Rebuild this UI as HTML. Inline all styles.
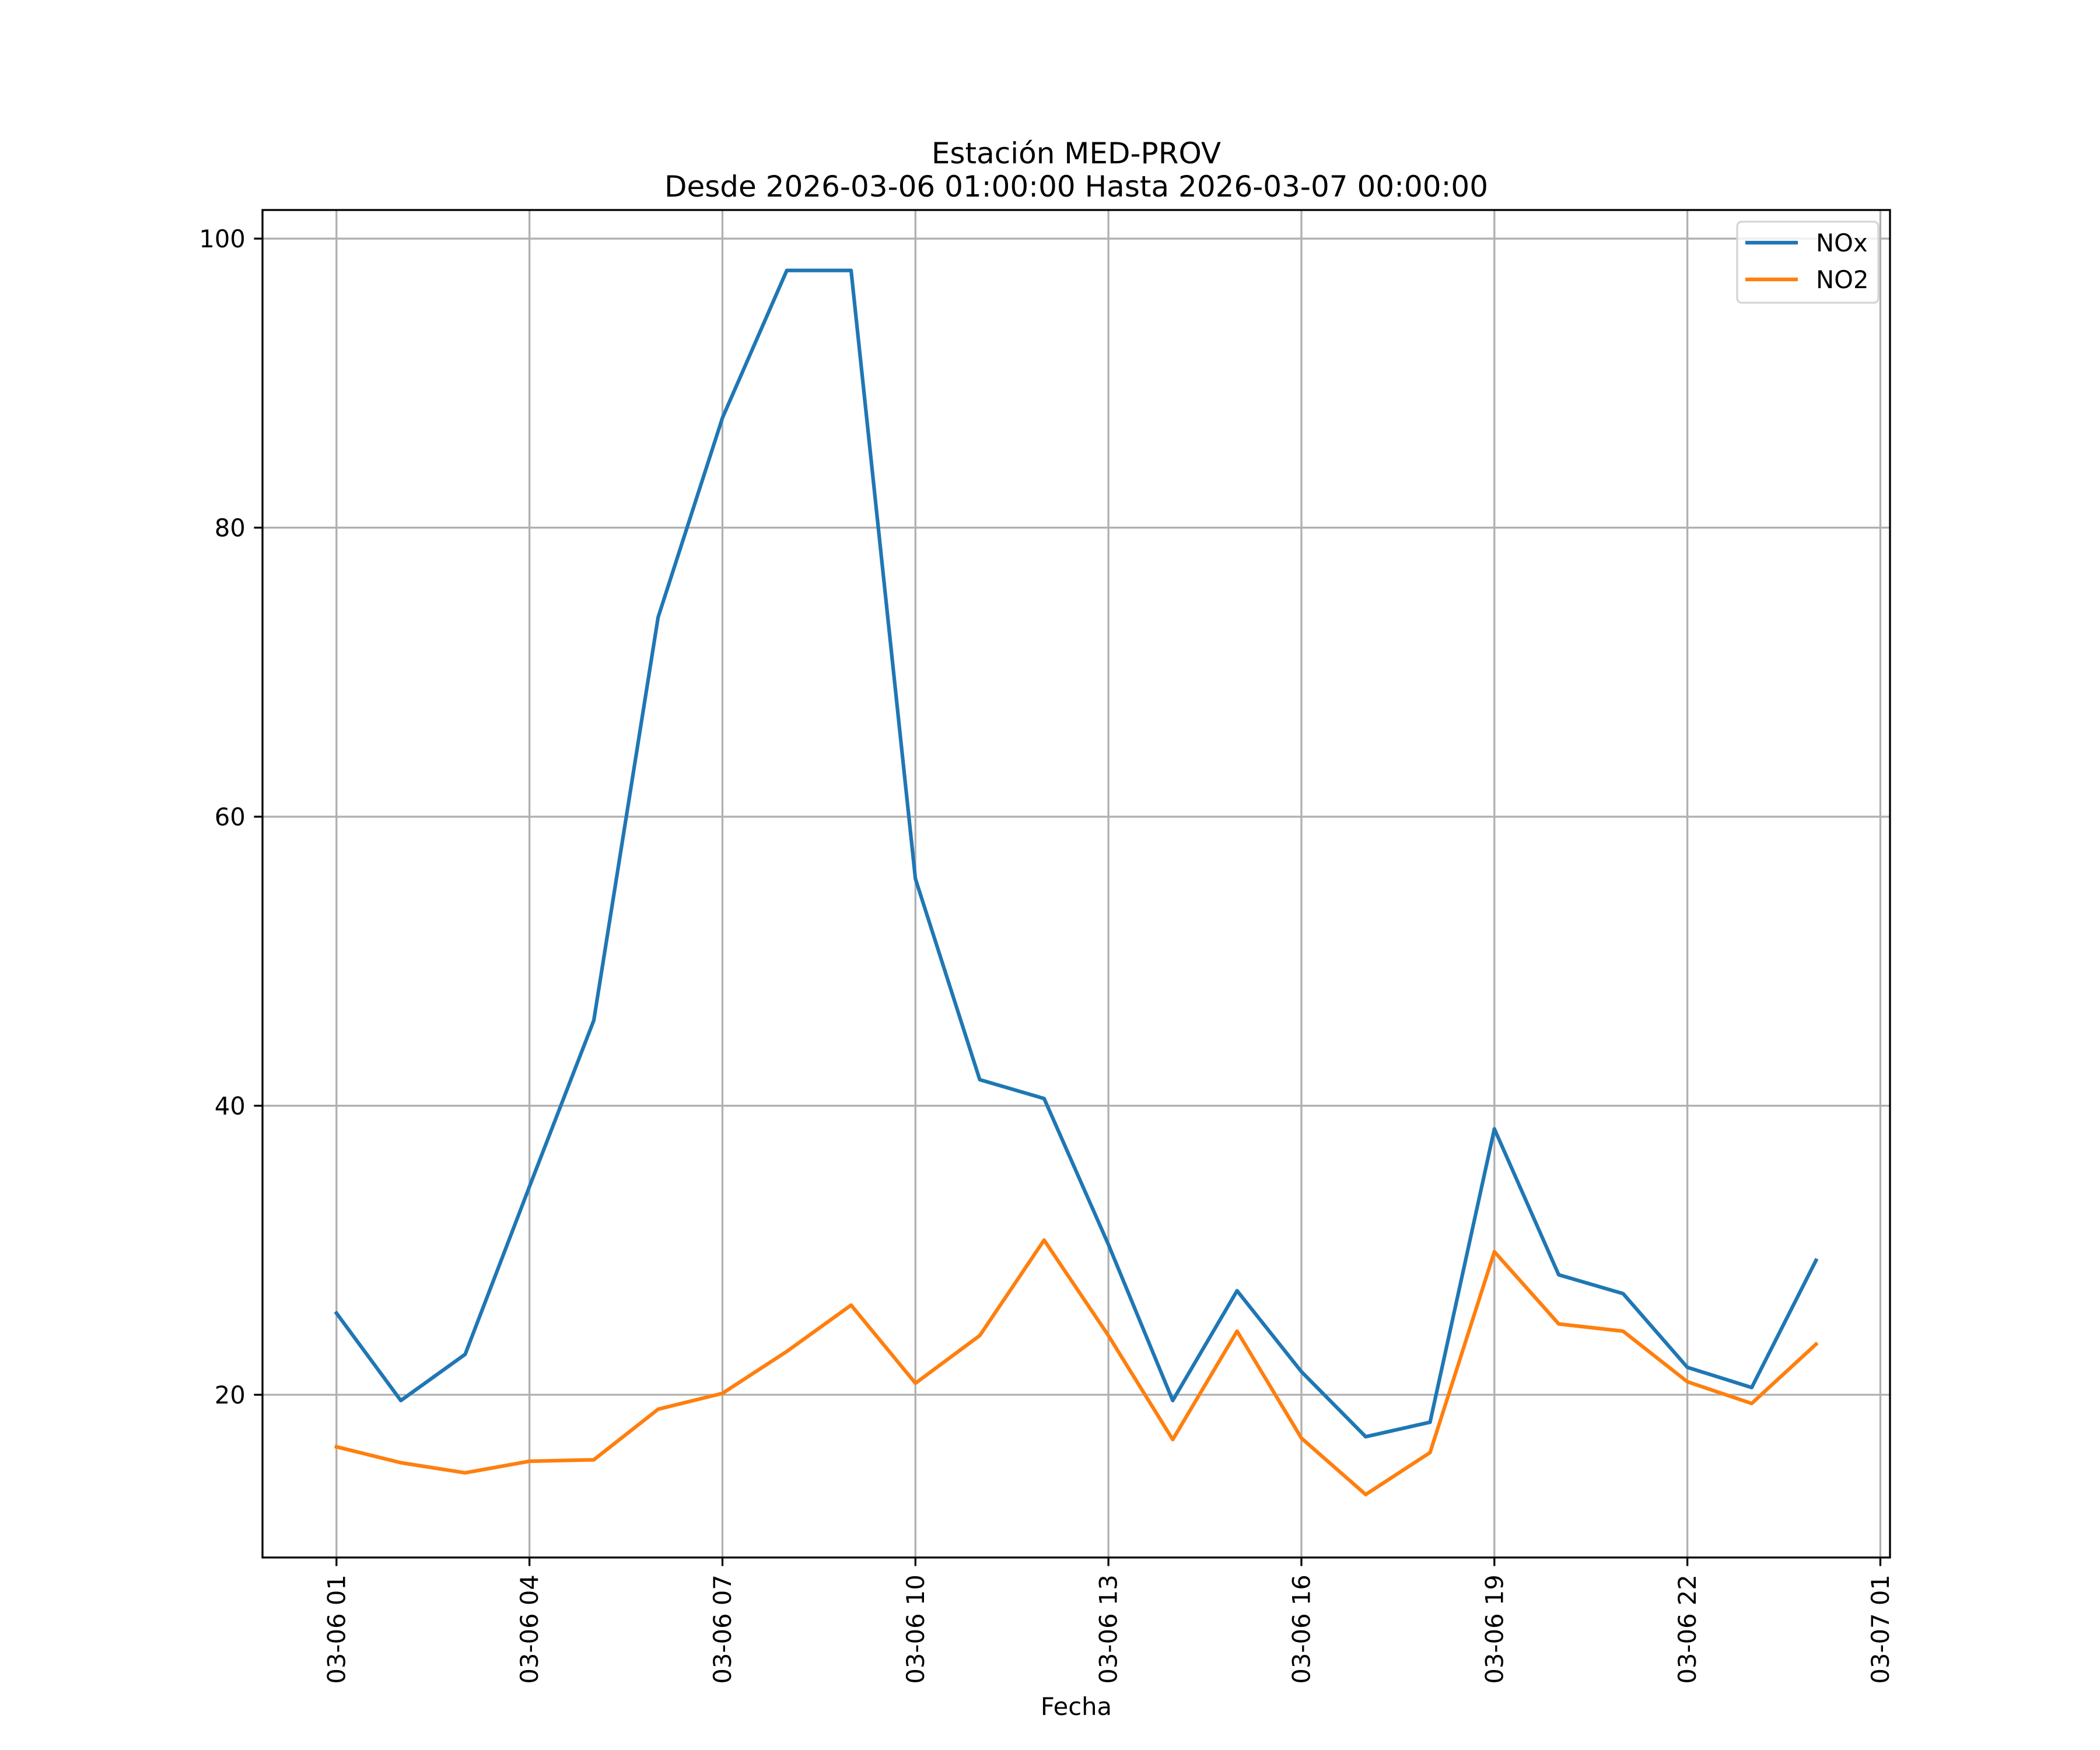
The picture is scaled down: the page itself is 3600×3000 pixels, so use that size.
<!DOCTYPE html>
<html><head><meta charset="utf-8"><style>html,body{margin:0;padding:0;background:#fff}svg{display:block}text{font-family:"DejaVu Sans","Liberation Sans",sans-serif;fill:#000}</style></head>
<body>
<svg id="chart" width="3600" height="3000" viewBox="0 0 3600 3000" xmlns="http://www.w3.org/2000/svg">
<rect x="0" y="0" width="3600" height="3000" fill="#fff"/>
<g id="grid"></g>
<g id="series"></g>
<rect x="450" y="360" width="2790" height="2310" fill="none" stroke="#000" stroke-width="3.3"/>
<g id="ticks"></g>
<text x="1845" y="280" font-size="50" text-anchor="middle">Estación MED-PROV</text>
<text x="1845" y="337" font-size="50" text-anchor="middle">Desde 2026-03-06 01:00:00 Hasta 2026-03-07 00:00:00</text>
<text x="1845" y="2940" font-size="41.7" text-anchor="middle">Fecha</text>
<g>
<rect x="2978" y="380" width="242" height="139" rx="8" fill="#fff" fill-opacity="0.8" stroke="#d5d5d5" stroke-width="3.3"/>
<line x1="2992" y1="416" x2="3082" y2="416" stroke="#1f77b4" stroke-width="6.25"/>
<text x="3113" y="431" font-size="41.7">NOx</text>
<line x1="2992" y1="479" x2="3082" y2="479" stroke="#ff7f0e" stroke-width="6.25"/>
<text x="3113" y="494" font-size="41.7">NO2</text>
</g>
</svg>
<script>
const hours = [1,2,3,4,5,6,7,8,9,10,11,12,13,14,15,16,17,18,19,20,21,22,23,24];
const noxValues = [25.65,19.6,22.8,34.4,45.9,73.8,87.6,97.8,97.8,55.7,41.8,40.5,30.4,19.6,27.2,21.6,17.1,18.1,38.4,28.3,27.0,21.9,20.5,29.3];
const no2Values = [16.4,15.3,14.6,15.4,15.5,19.0,20.1,23.0,26.2,20.8,24.1,30.7,24.1,16.9,24.4,17.0,13.1,16.0,29.9,24.9,24.4,20.9,19.4,23.5];
const xTickHours = [1,4,7,10,13,16,19,22,25];
const xTickLabels = ["03-06 01","03-06 04","03-06 07","03-06 10","03-06 13","03-06 16","03-06 19","03-06 22","03-07 01"];
const yTicks = [20,40,60,80,100];

const NS = "http://www.w3.org/2000/svg";
const L=450,R=3240,T=360,B=2670;
const xmin=-0.15,xmax=25.15,ymin=8.74,ymax=101.98;
function xs(h){return L+(h-xmin)/(xmax-xmin)*(R-L);}
function ys(v){return B-(v-ymin)/(ymax-ymin)*(B-T);}
function mk(tag,attrs,parent){const e=document.createElementNS(NS,tag);for(const k in attrs)e.setAttribute(k,attrs[k]);parent.appendChild(e);return e;}
const grid=document.getElementById('grid'),ticks=document.getElementById('ticks'),series=document.getElementById('series');

xTickHours.forEach((h,i)=>{
  const x=xs(h);
  const g=mk('line',{x1:x,y1:T,x2:x,y2:B,stroke:'#b0b0b0','stroke-width':3.3},grid);
  
  
  const t=mk('line',{x1:x,y1:B,x2:x,y2:B+14.6,stroke:'#000','stroke-width':3.3},ticks);
  
  
  const lb=mk('text',{x:0,y:0,'font-size':41.7,'text-anchor':'end',transform:`translate(${x+14.5},${B+29.2}) rotate(-90)`},ticks);
  lb.textContent=xTickLabels[i];
  
  
});
yTicks.forEach(v=>{
  const y=ys(v);
  const g=mk('line',{x1:L,y1:y,x2:R,y2:y,stroke:'#b0b0b0','stroke-width':3.3},grid);
  
  
  const t=mk('line',{x1:L-14.6,y1:y,x2:L,y2:y,stroke:'#000','stroke-width':3.3},ticks);
  
  
  const lb=mk('text',{x:L-29.2,y:y+15,'font-size':41.7,'text-anchor':'end'},ticks);
  lb.textContent=String(v);
  
  
});
function line(vals,color,name){
  const pts=vals.map((v,i)=>xs(hours[i]).toFixed(1)+','+ys(v).toFixed(1)).join(' ');
  const p=mk('polyline',{points:pts,fill:'none',stroke:color,'stroke-width':6.25,'stroke-linejoin':'round','stroke-linecap':'square'},series);
  
  
}
line(noxValues,'#1f77b4','nox-line');
line(no2Values,'#ff7f0e','no2-line');
</script>
</body></html>
